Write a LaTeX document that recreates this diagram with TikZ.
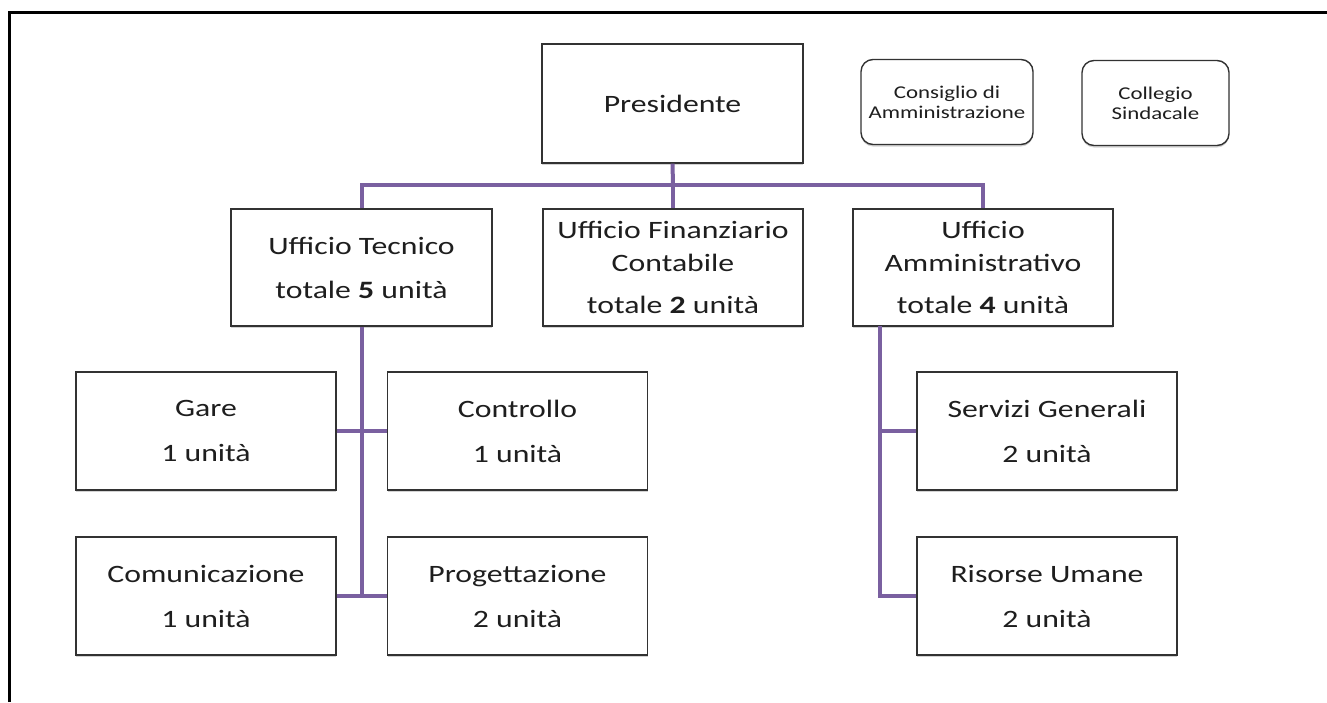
\documentclass[tikz,border=0pt]{standalone}
\usepackage{fontspec}
\setmainfont{Carlito}[FakeStretch=1.27]
\usetikzlibrary{shadows}
\definecolor{boxgray}{RGB}{50,50,50}
\definecolor{txt}{RGB}{30,30,30}
\definecolor{conn}{RGB}{122,96,160}
\tikzset{
  box/.style={draw=boxgray, line width=1.4pt, fill=white, minimum width=260pt, minimum height=118pt,
    inner sep=0pt, align=center, text=txt, font=\fontsize{25}{33}\selectfont,
    drop shadow={shadow xshift=0pt, shadow yshift=-2pt, opacity=0.35, fill=gray}},
  smallbox/.style={box, rounded corners=12pt, font=\fontsize{18}{20}\selectfont, minimum height=85pt},
  link/.style={draw=conn, line width=4pt},
  frame/.style={draw=black, line width=3pt}
}
\begin{document}
\begin{tikzpicture}[x=1pt, y=-1pt]
\useasboundingbox (0,0) rectangle (1327,702);
\draw[frame] (9.5,702) -- (9.5,12) -- (1327,12);

% top level
\node[box, minimum width=261pt, minimum height=119pt] (pres) at (672.5,103.5) {Presidente};
\node[smallbox, minimum width=172pt] (cons) at (947,102) {Consiglio di\\Amministrazione};
\node[smallbox, minimum width=147pt] (coll) at (1155.5,103) {Collegio\\Sindacale};

% second level
\node[box, minimum width=261pt, minimum height=117pt] (tec) at (361.5,267.5) {Ufficio Tecnico\\[11pt]totale \textbf{5} unità};
\node[box, minimum width=260pt, minimum height=117pt] (fin) at (673,267.5) {Ufficio Finanziario\\Contabile\\[9pt]totale \textbf{2} unità};
\node[box, minimum width=260pt, minimum height=117pt] (amm) at (983,267.5) {Ufficio\\Amministrativo\\[9pt]totale \textbf{4} unità};

% third level
\node[box] (gare) at (206,431) {Gare\\[12pt]1 unità};
\node[box] (contr) at (517.5,431) {Controllo\\[12pt]1 unità};
\node[box] (comu) at (206,596) {Comunicazione\\[12pt]1 unità};
\node[box] (prog) at (517.5,596) {Progettazione\\[12pt]2 unità};
\node[box] (serv) at (1047,431) {Servizi Generali\\[12pt]2 unità};
\node[box] (ris) at (1047,596) {Risorse Umane\\[12pt]2 unità};

% connectors
\coordinate (bus) at (673,185);
\coordinate (ammstem) at (880,326);
\draw[link] (pres.south) -- (bus);
\draw[link] (tec.north) |- (bus) -| (amm.north);
\draw[link] (bus) -- (fin.north);
\draw[link] (tec.south) -- (tec.south |- comu.east);
\draw[link] (gare.east) -- (contr.west);
\draw[link] (comu.east) -- (prog.west);
\draw[link] (ammstem) |- (ris.west);
\draw[link] (ammstem |- serv.west) -- (serv.west);
\end{tikzpicture}
\end{document}
